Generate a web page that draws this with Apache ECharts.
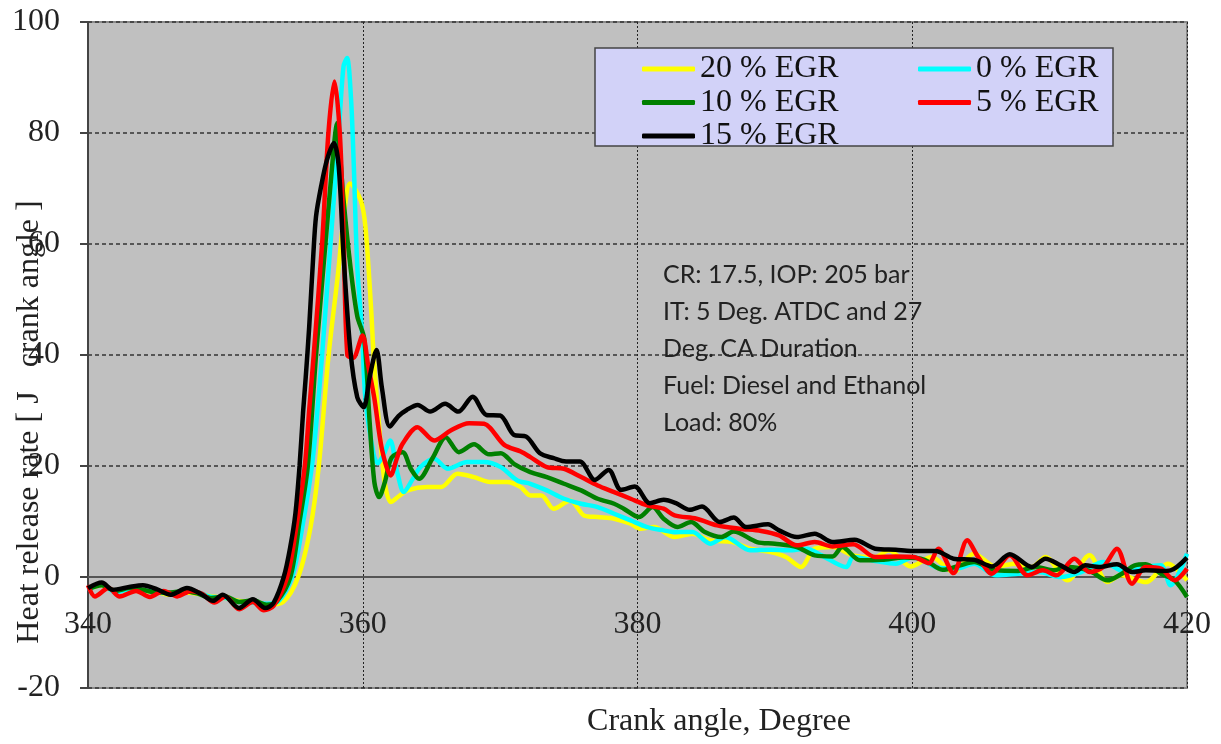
<!DOCTYPE html>
<html>
<head>
<meta charset="utf-8">
<script src="https://cdn.jsdelivr.net/npm/echarts@6/dist/echarts.min.js"></script>
<style>html,body{margin:0;padding:0;background:#fff;}#c{width:1221px;height:744px;}</style>
</head>
<body>
<div id="c"></div>
<script>
// ---- data ----
const xTicks = [340, 360, 380, 400, 420];
const yTicks = [-20, 0, 20, 40, 60, 80, 100];
const seriesNames = ['20 % EGR', '0 % EGR', '10 % EGR', '5 % EGR', '15 % EGR'];

const angle20 = [340,341,342,343,344,345,346,347,348,349,350,351,352,353,354.2,355.3,356.2,356.8,357.5,358.2,358.7,359.07,359.85,360.2,360.6,360.8,361.2,361.6,362.04,362.6,363.25,364.7,365.7,366.9,368.1,369.3,370.5,371.5,372.2,373.0,373.9,375.1,376.1,377.1,378.3,379.5,380.2,381.2,382.7,384.0,385.3,386.9,388.2,389.7,390.8,391.9,392.9,394.2,395.7,397.3,398.3,399.9,401.4,403.0,404.5,406.1,407.4,408.7,409.7,411.3,412.9,414.2,415.2,417.0,418.6,420];
const hrr20 = [-2.3,-1.5,-2.5,-2.4,-2.6,-2.7,-3.2,-2.8,-3.0,-3.5,-3.8,-4.3,-4.5,-5.0,-4.5,0,9,20,39.7,54.7,66.7,70.9,67.9,63,48.7,39.7,27,17,13.5,14.5,15.6,16.2,16.2,18.6,18,17.1,17.1,16.2,14.7,14.7,12.3,13.8,11.1,10.8,10.5,9.6,8.7,9,7.2,7.8,6.6,6.3,5.1,4.5,3.6,1.8,5.1,5.4,3.9,3.6,4.8,1.9,3.6,0.9,4.2,1.8,2.4,1.8,3.6,-0.6,3.9,-0.9,0.3,-0.9,2.4,-0.6];

const angle0 = [340,341,342,343,344,345,346,347,348,349,350,351,352,353,353.8,354.85,355.6,356.3,356.7,357.04,357.65,358.25,358.6,358.86,359.15,359.35,359.6,359.95,360.2,360.8,361.1,361.5,362.0,362.5,363.0,363.6,364.2,365.2,366.2,367.6,368.8,370.05,371.25,372.2,373.4,374.65,375.9,377.1,378.3,379.5,380.7,381.9,382.7,384.0,385.3,386.4,388.2,389.7,391.0,392.3,393.4,395.2,395.7,397.3,398.8,400.1,401.7,403.2,404.5,406.1,407.7,409.2,410.8,412.3,413.9,415.5,417.0,418.1,418.8,420];
const hrr0 = [-2.5,-1.2,-2.8,-2.2,-2.5,-2.6,-3,-2.6,-2.8,-3.6,-3.8,-4.5,-4.6,-4.8,-4.5,0,9,20,30,40,60,80,92,93.5,86,74,56,44,32,22,20.5,22,24.6,19,15.3,17.5,19.8,21.3,19.5,20.7,20.7,19.8,17.4,16.8,15.6,14.1,13.2,12.6,11.4,10.2,9,8.4,8.1,8.1,6,7.2,4.8,4.9,4.8,5.1,3.9,1.8,3.6,2.9,2.4,3.6,1.8,1.5,2.4,0.3,0.6,0.9,0,0.9,2.7,0.9,1.8,2.1,-1.5,4.2];

const angle10 = [340,341,342,343,344,345,346,347,348,349,350,351,352,353,353.7,354.73,355.4,356.0,356.6,357.28,357.7,358.0,358.13,358.35,358.6,359.1,359.6,360.1,360.5,360.85,361.19,361.6,362.1,362.9,363.5,364.1,365.1,366.04,367.0,368.1,369.2,370.05,371.0,372.2,373.4,374.65,375.9,377.1,378.3,379.0,380.1,381.1,381.9,382.9,383.9,384.9,386.1,387.0,388.7,390.0,391.6,392.9,394.2,394.9,396.2,397.8,399.4,400.9,402.2,403.5,404.5,406.1,407.7,409.0,410.3,411.3,412.9,414.2,415.2,416.2,417.0,418.1,419.1,420];
const hrr10 = [-2.2,-1.5,-2.5,-2,-2.3,-2.8,-2.8,-2.5,-3,-3.8,-3.5,-4.5,-4.2,-5,-4.5,0,10,20,40,60,72,80,81.8,76,68,56,47,43,28,17,14.4,17,21.5,22.5,19.5,17.7,21.5,25.2,22.5,23.9,22.1,22.3,20.4,18.9,18,16.8,15.6,14.1,13.2,12.3,10.8,12.6,10.5,9,9.9,8.1,7.2,8.2,6.3,6,5.4,3.9,3.7,5.4,3,3.1,3.5,3.1,1.3,2.1,2.7,1.2,1.1,1.8,1.2,1.8,1.1,-0.6,0.5,2.1,2.3,0.6,-0.6,-3.6];

const angle5 = [340,340.5,341.5,342.3,343.5,344.5,345.5,346.5,347.5,348.3,349.2,350,351,352,352.8,353.5,354.5,355.1,355.78,356.1,356.43,357.04,357.5,357.94,358.33,358.6,358.88,359.3,359.98,360.4,360.83,361.4,362.04,362.5,362.9,363.98,365.2,366.4,367.74,368.83,370.3,371.5,372.2,373.4,374.65,375.9,377.1,378.3,379.5,380.7,381.9,382.7,384.3,385.8,387.4,389.0,390.3,391.6,392.9,394.2,395.7,397.3,398.8,400.1,401.2,401.9,403.0,404.0,404.8,405.8,407.1,408.4,409.5,410.5,411.8,412.9,413.9,414.9,416.0,417.0,418.1,419.1,420];
const hrr5 = [-1.5,-3.5,-2,-3.5,-2.5,-3.6,-2.5,-3.5,-2.5,-3,-4.6,-3.5,-5.8,-4.5,-6,-5.2,0,8,20,30,40,60,80,89.3,80,62,40,39.5,43.5,38,32.4,23,18.3,21.5,24,27,24.6,26.4,27.7,27.6,23.8,22.6,21.6,19.8,19.5,18,16.5,15.3,14.1,12.9,12.3,11.1,10.5,9.3,8.7,8.3,7.5,5.7,6.3,5.5,5.9,3.6,3.7,3.6,2.5,5.1,0.7,6.6,3.6,0.6,3.9,0.3,1.2,0.3,3.3,0.9,1.8,5.1,-1.2,1.8,1.5,-0.6,1.5];

const angle15 = [340,341,341.8,343,344,345,346,347.2,348.2,349.1,349.8,351,352,352.9,353.5,354.25,354.73,355.1,355.4,355.65,355.85,356.1,356.4,356.6,356.97,357.4,357.9,358.25,358.6,359.1,359.6,360.07,360.5,361.0,361.4,361.97,362.6,363.2,364.0,364.9,366.0,366.95,368.0,369.0,370.0,371.0,371.9,372.9,373.9,374.8,375.8,376.9,377.9,378.8,379.8,380.9,381.9,382.8,383.8,384.7,386.0,387.0,387.9,389.5,390.3,391.6,392.9,394.2,395.8,397.3,398.8,399.9,401.7,403.0,404.5,405.8,407.1,408.7,409.7,410.8,411.8,412.6,413.6,414.9,416.0,417.0,418.1,418.8,420];
const hrr15 = [-2.0,-1.0,-2.3,-1.8,-1.5,-2.2,-3.2,-2.0,-3,-4.3,-3.2,-5.6,-4.0,-5.6,-4.7,0,5.5,11.5,20,29.5,36,45,58,65,70.4,75.2,78.2,74,58,40.8,32.4,30.6,36,40.9,34,27.1,29,30.1,31,29.8,31.2,29.8,32.5,29.2,29.1,25.6,25.3,22.3,21.4,20.8,20.8,17.5,19.3,15.7,16.3,13.3,13.9,13.3,12.1,12.7,9.9,10.7,9,9.5,8.4,7.2,7.8,6.3,6.7,5.1,4.9,4.7,4.7,3.3,3.1,1.9,4.1,1.8,3.3,2.1,0.9,2.1,1.8,2.3,0.9,1.2,1.1,1.2,3.5];

const annotationLines = ['CR: 17.5, IOP: 205 bar', 'IT: 5 Deg. ATDC and 27', 'Deg. CA Duration', 'Fuel: Diesel and Ethanol', 'Load: 80%'];
const xTitle = 'Crank angle, Degree';
const yTitle = 'Heat release rate [ J   crank angle ]';

// ---- build ----
const colors = ['#FFFF00', '#00FFFF', '#008000', '#FF0000', '#000000'];
const angles = [angle20, angle0, angle10, angle5, angle15];
const values = [hrr20, hrr0, hrr10, hrr5, hrr15];
const serif = '"Liberation Serif", "DejaVu Serif", serif';

const series = seriesNames.map((name, i) => ({
  name: name,
  type: 'line',
  data: angles[i].map((a, j) => [a, values[i][j]]),
  smooth: 0.3,
  showSymbol: false,
  symbol: 'none',
  lineStyle: { color: colors[i], width: 4.5 },
  itemStyle: { color: colors[i] },
  z: 2 + i,
  animation: false
}));

const annotGraphics = annotationLines.map((t, i) => ({
  type: 'text', left: 663, top: 262 + i * 37, z: 10,
  style: { text: t, fontSize: 25, fontFamily: 'Lato, "Open Sans", sans-serif', fill: '#222' }
}));

const chart = echarts.init(document.getElementById('c'));
chart.setOption({
  animation: false,
  backgroundColor: '#ffffff',
  grid: { left: 88, right: 34, top: 22, bottom: 56, show: true, backgroundColor: '#C0C0C0', borderColor: '#8a8a8a', borderWidth: 2 },
  xAxis: {
    type: 'value', min: xTicks[0], max: xTicks[xTicks.length - 1], interval: 20,
    offset: -111,
    axisLine: { show: true, onZero: false, lineStyle: { color: '#555', width: 2 } },
    axisTick: { show: false },
    axisLabel: { margin: 32, fontSize: 32, fontFamily: serif, color: '#222', showMinLabel: true, showMaxLabel: true, hideOverlap: false },
    splitLine: { show: true, lineStyle: { color: '#222', type: [2, 2], width: 1 } }
  },
  yAxis: {
    type: 'value', min: yTicks[0], max: yTicks[yTicks.length - 1], interval: 20,
    axisLine: { show: true, onZero: false, lineStyle: { color: '#444', width: 2 } },
    axisTick: { show: true, inside: false, length: 8, lineStyle: { color: '#444', width: 2 } },
    axisLabel: { margin: 28, fontSize: 32, fontFamily: serif, color: '#222' },
    splitLine: { show: true, lineStyle: { color: '#333', type: [4, 3], width: 1.5 } }
  },
  legend: [
    {
      data: [seriesNames[0], seriesNames[2], seriesNames[4]], orient: 'vertical', left: 637, top: 48,
      itemWidth: 53, itemHeight: 5, itemGap: 1.5, icon: 'roundRect', z: 12,
      textStyle: { fontSize: 32, fontFamily: serif, color: '#111', lineHeight: 32 }
    },
    {
      data: [seriesNames[1], seriesNames[3]], orient: 'vertical', left: 913, top: 48,
      itemWidth: 53, itemHeight: 5, itemGap: 1.5, icon: 'roundRect', z: 12,
      textStyle: { fontSize: 32, fontFamily: serif, color: '#111', lineHeight: 32 }
    }
  ],
  graphic: [
    { type: 'rect', shape: { x: 595, y: 48, width: 518, height: 98 }, z: 8,
      style: { fill: '#D2D2F8', stroke: '#444', lineWidth: 1.5 } },
    { type: 'text', x: 30, y: 422, rotation: Math.PI / 2, z: 10,
      style: { text: yTitle, fontSize: 32, fontFamily: serif, fill: '#222', align: 'center', verticalAlign: 'middle', textAlign: 'center', textVerticalAlign: 'middle' } },
    { type: 'text', x: 719, y: 722, z: 10,
      style: { text: xTitle, fontSize: 32, fontFamily: serif, fill: '#222', align: 'center', verticalAlign: 'middle', textAlign: 'center', textVerticalAlign: 'middle' } }
  ].concat(annotGraphics),
  series: series
});
</script>
</body>
</html>
